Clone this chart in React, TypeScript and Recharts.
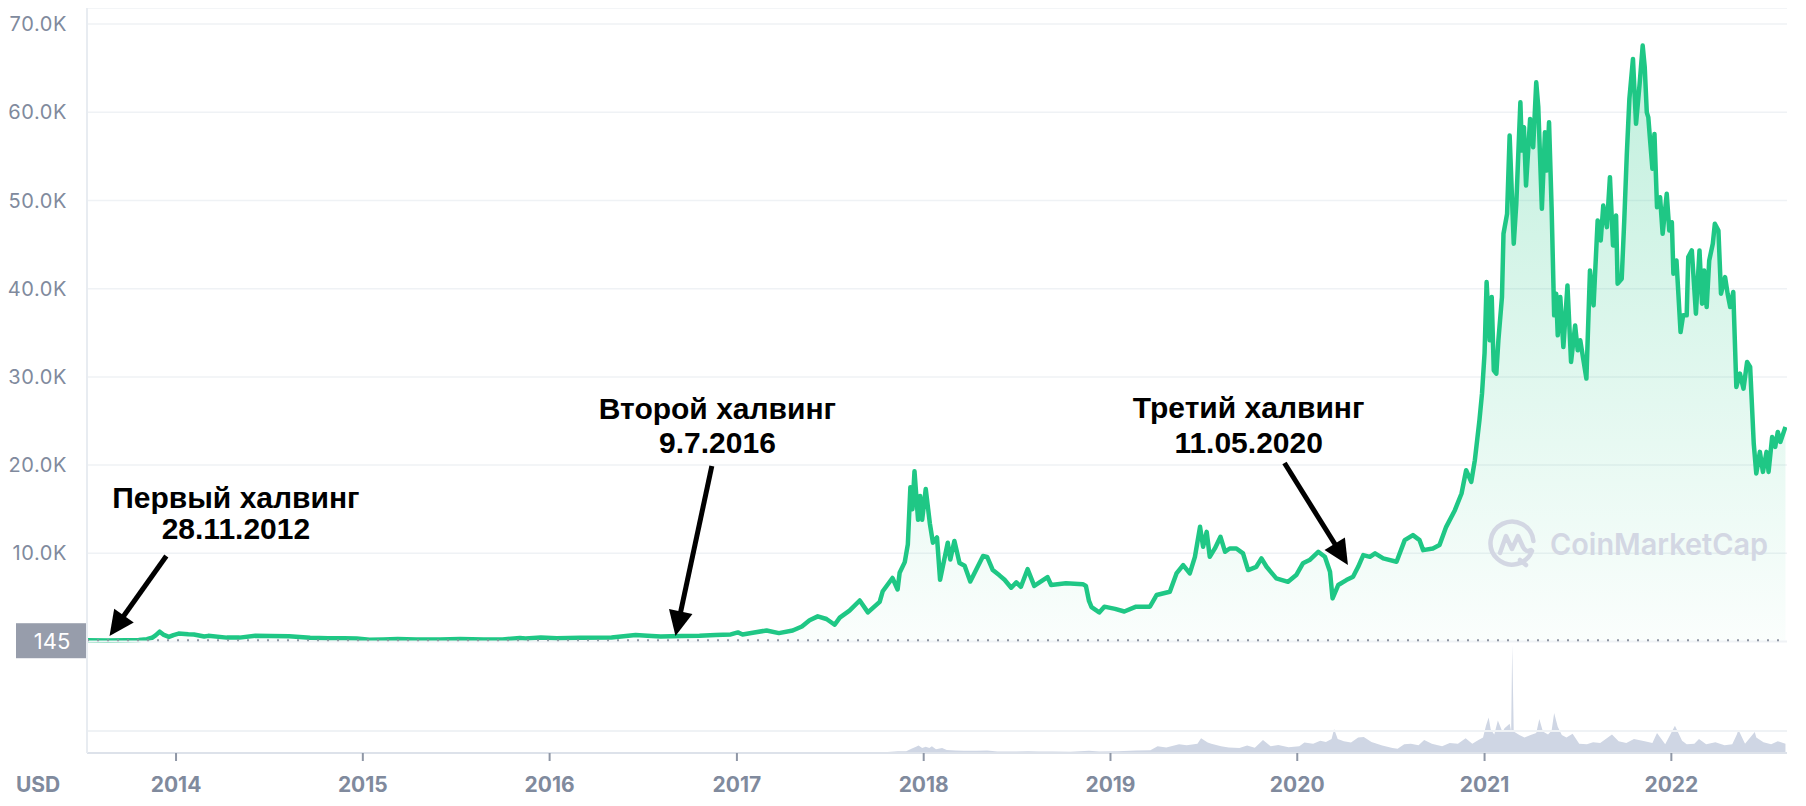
import React from 'react';
import { ComposedChart, Area, XAxis, YAxis, CartesianGrid, ReferenceLine, ReferenceDot } from 'recharts';

// ---------- data ----------
const priceDates = [
  '2013-07-11','2013-08-20','2013-09-25','2013-10-20','2013-11-05','2013-11-15','2013-11-22','2013-11-30','2013-12-07','2013-12-18','2013-12-27',
  '2014-01-06','2014-01-25','2014-02-05','2014-02-25','2014-03-05','2014-04-10','2014-05-05','2014-06-05','2014-07-05','2014-08-10','2014-09-20','2014-10-25','2014-11-25','2014-12-20',
  '2015-01-14','2015-02-10','2015-03-10','2015-04-15','2015-06-01','2015-07-10','2015-08-25','2015-10-01','2015-11-04','2015-11-15','2015-12-15',
  '2016-01-15','2016-03-01','2016-05-01','2016-06-17','2016-07-10','2016-08-05','2016-09-15','2016-10-20','2016-11-20','2016-12-20',
  '2017-01-03','2017-01-12','2017-02-01','2017-02-28','2017-03-24','2017-04-20','2017-05-08','2017-05-23','2017-06-08','2017-06-25','2017-07-11','2017-07-21',
  '2017-08-09','2017-08-29','2017-09-14','2017-10-07','2017-10-13','2017-11-01','2017-11-11','2017-11-15','2017-11-25','2017-12-01','2017-12-06','2017-12-10',
  '2017-12-14','2017-12-21','2017-12-25','2017-12-29',
  '2018-01-05','2018-01-13','2018-01-19','2018-01-27','2018-02-02','2018-02-17','2018-02-22','2018-03-02','2018-03-12','2018-03-22','2018-04-02','2018-04-14',
  '2018-04-27','2018-05-05','2018-05-16','2018-05-29','2018-06-08','2018-06-21','2018-07-01','2018-07-10','2018-07-23','2018-08-05','2018-08-31','2018-09-07',
  '2018-10-06','2018-11-08','2018-11-14','2018-11-20','2018-11-25','2018-12-10','2018-12-20',
  '2019-01-10','2019-01-28','2019-02-20','2019-03-19','2019-04-01','2019-04-27','2019-05-10','2019-05-23','2019-06-05','2019-06-15','2019-06-25','2019-07-01',
  '2019-07-08','2019-07-14','2019-07-24','2019-08-04','2019-08-13','2019-08-22','2019-09-04','2019-09-17','2019-09-27','2019-10-13','2019-10-23','2019-11-02',
  '2019-11-21','2019-12-14','2019-12-30',
  '2020-01-12','2020-01-25','2020-02-11','2020-02-24','2020-03-05','2020-03-10','2020-03-21','2020-04-06','2020-04-19','2020-04-29','2020-05-09','2020-05-22',
  '2020-06-01','2020-06-17','2020-07-13','2020-07-29','2020-08-14','2020-08-27','2020-09-03','2020-09-22','2020-10-05','2020-10-18','2020-11-04','2020-11-17',
  '2020-11-26','2020-12-06','2020-12-13','2020-12-22','2020-12-27',
  '2021-01-01','2021-01-05','2021-01-11','2021-01-15','2021-01-19','2021-01-24','2021-01-28','2021-02-04','2021-02-07','2021-02-14','2021-02-19','2021-02-27',
  '2021-03-04','2021-03-12','2021-03-15','2021-03-19','2021-03-23','2021-03-31','2021-04-06','2021-04-12','2021-04-16','2021-04-23','2021-04-29','2021-05-03',
  '2021-05-07','2021-05-12','2021-05-17','2021-05-21','2021-05-24','2021-05-29','2021-06-04','2021-06-12','2021-06-19','2021-06-27','2021-07-02','2021-07-07',
  '2021-07-19','2021-07-26','2021-08-02','2021-08-10','2021-08-16','2021-08-21','2021-08-28','2021-09-03','2021-09-09','2021-09-15','2021-09-18','2021-09-26',
  '2021-10-01','2021-10-06','2021-10-11','2021-10-18','2021-10-24','2021-10-31','2021-11-06','2021-11-10','2021-11-14','2021-11-17','2021-11-20','2021-11-25',
  '2021-11-29','2021-12-04','2021-12-10','2021-12-15','2021-12-23','2021-12-28',
  '2022-01-02','2022-01-05','2022-01-11','2022-01-19','2022-01-24','2022-01-31','2022-02-03','2022-02-10','2022-02-18','2022-02-25','2022-03-02','2022-03-06',
  '2022-03-11','2022-03-16','2022-03-23','2022-03-27','2022-04-03','2022-04-08','2022-04-16','2022-04-21','2022-04-26','2022-05-02','2022-05-08','2022-05-15',
  '2022-05-22','2022-05-29','2022-06-04','2022-06-11','2022-06-16','2022-06-23','2022-06-29','2022-07-06','2022-07-10','2022-07-17','2022-07-23','2022-07-28',
  '2022-08-02','2022-08-12',
];
const priceValues = [
  145,125,135,170,260,420,700,1110,780,520,730,
  900,820,790,560,640,440,440,650,630,590,420,360,370,330,
  200,230,280,230,230,290,220,240,400,330,450,
  380,420,450,740,650,570,610,640,740,800,
  1030,800,990,1250,950,1250,1700,2400,2850,2550,1900,2700,
  3500,4650,3300,4500,5700,7200,5900,7800,9000,11000,17500,15000,
  19300,13800,16500,13800,
  17300,13400,11200,11800,7000,11200,9300,11400,8900,8600,6800,8200,
  9700,9600,8100,7500,7000,6100,6700,6200,8200,6300,7300,6400,
  6600,6500,6300,4600,3900,3300,3950,
  3700,3400,3950,3940,5270,5640,7720,8660,7720,9600,13000,10740,
  12430,9600,10550,11870,10170,10550,10550,9990,8100,8470,9420,8470,
  7160,6770,7530,
  8860,9230,10170,9600,7900,4890,6400,6960,7340,8470,9800,9600,
  9990,9420,9040,11490,12060,11490,10360,10550,10930,13000,14890,16780,
  19420,18100,20550,25080,28100,
  32700,40750,34150,39050,30750,30370,34150,39050,46230,48490,57360,45100,
  49620,61130,55660,58300,51700,59250,56040,63400,60570,49060,57740,53400,
  58870,49240,36980,39430,34710,39050,33390,40370,31690,35840,33010,34150,
  29810,42070,38110,47740,45470,49430,46980,52640,44900,48300,40570,41130,
  47740,55290,61520,66050,58690,63220,67560,65100,60000,59430,57170,53590,
  57550,49240,50370,46230,50760,46600,
  47540,41700,43200,35080,36980,36980,43580,44340,37170,44340,38300,42070,
  37920,43200,45100,47360,46600,39430,41310,39430,37920,39620,28860,30370,
  28670,31690,31120,22450,19050,21500,19230,21500,19230,23190,22060,23760,
  22630,24330,
];

// trading volume, billions USD
const volumeDates = [
  '2013-07-11','2013-11-30','2014-02-10','2014-12-31','2015-12-31','2016-12-31','2017-05-25','2017-08-15','2017-10-15','2017-11-12','2017-11-28',
  '2017-12-08','2017-12-17','2017-12-22','2017-12-29','2018-01-05','2018-01-12','2018-01-17','2018-01-25','2018-02-06','2018-02-15','2018-03-05',
  '2018-03-20','2018-04-15','2018-05-05','2018-05-25','2018-06-15','2018-07-24','2018-08-15','2018-09-10','2018-10-15','2018-11-20','2018-12-10',
  '2019-01-15','2019-02-20','2019-03-20','2019-04-03','2019-04-20','2019-05-15','2019-05-30','2019-06-20','2019-06-27','2019-07-10','2019-07-17',
  '2019-08-05','2019-08-20','2019-09-10','2019-09-25','2019-10-10','2019-10-26','2019-11-10','2019-11-25','2019-12-15',
  '2020-01-05','2020-01-15','2020-02-01','2020-02-15','2020-02-26','2020-03-08','2020-03-13','2020-03-20','2020-04-01','2020-04-15','2020-04-29',
  '2020-05-10','2020-05-25','2020-06-15','2020-07-05','2020-07-15','2020-07-28','2020-08-10','2020-08-25','2020-09-05','2020-09-20','2020-10-10',
  '2020-10-25','2020-11-10','2020-11-25','2020-12-08','2020-12-20','2020-12-29',
  '2021-01-04','2021-01-09','2021-01-13','2021-01-20','2021-01-27','2021-02-05','2021-02-09','2021-02-19','2021-02-22','2021-02-24','2021-02-27',
  '2021-03-10','2021-03-20','2021-04-01','2021-04-12','2021-04-18','2021-04-25','2021-05-05','2021-05-12','2021-05-17','2021-05-24','2021-06-01',
  '2021-06-10','2021-06-22','2021-07-05','2021-07-20','2021-08-01','2021-08-15','2021-09-07','2021-09-20','2021-10-05','2021-10-20','2021-11-10',
  '2021-11-25','2021-12-04','2021-12-20',
  '2022-01-08','2022-01-22','2022-01-31','2022-02-15','2022-02-24','2022-03-10','2022-03-28','2022-04-15','2022-04-30','2022-05-09','2022-05-12',
  '2022-05-25','2022-06-13','2022-06-16','2022-06-30','2022-07-15','2022-07-28','2022-08-12',
];
const volumeValues = [
  0.05,0.3,0.2,0.05,0.1,0.3,1.5,2,2.5,6,6,
  14,20,24,16,20,16,22,12,16,10,8,
  7,7,8,5,4.5,6,4.5,4.5,4,7,5,
  5.5,8,9,22,18,28,25,30,48,34,30,
  22,18,16,24,17,42,22,26,19,
  22,34,30,40,36,45,78,45,38,34,50,
  52,36,24,16,14,28,30,25,42,30,22,
  32,30,48,30,42,50,
  90,115,76,60,105,68,80,95,70,350,70,
  58,50,58,65,110,70,60,72,130,85,58,
  50,62,30,28,35,32,60,38,32,45,38,
  32,65,28,
  88,40,28,30,45,28,35,25,28,60,75,
  30,68,50,35,28,38,30,
];

const yearTicks = ['2014-01-01','2015-01-01','2016-01-01','2017-01-01','2018-01-01','2019-01-01','2020-01-01','2021-01-01','2022-01-01'];
const priceTicks = [10000, 20000, 30000, 40000, 50000, 60000, 70000];
const startPrice = 145;
const currencyLabel = 'USD';
const watermarkText = 'CoinMarketCap';

const annotationTitles = ['Первый халвинг', 'Второй халвинг', 'Третий халвинг'];
const annotationDates = ['28.11.2012', '9.7.2016', '11.05.2020'];
const annotationTextDates = ['2014-04-28', '2016-11-24', '2019-09-28'];
const annotationTitlePrices = [16390, 26480, 26590];
const annotationSubPrices = [12870, 22620, 22620];
const arrowTailDates = ['2013-12-13', '2016-11-13', '2019-12-07'];
const arrowTailPrices = [9700, 19900, 20240];
const arrowTipDates = ['2013-08-24', '2016-09-03', '2020-04-09'];
const arrowTipPrices = [624, 624, 8675];

// ---------- build table ----------
const ts = (d: string) => Date.parse(d + 'T00:00:00Z');
const rowMap = new Map<number, any>();
priceDates.forEach((d, i) => {
  const t = ts(d);
  rowMap.set(t, { ...(rowMap.get(t) || { t }), price: priceValues[i] });
});
volumeDates.forEach((d, i) => {
  const t = ts(d);
  rowMap.set(t, { ...(rowMap.get(t) || { t }), volume: volumeValues[i] });
});
const chartData = Array.from(rowMap.values()).sort((a, b) => a.t - b.t);

const X_DOMAIN: [number, number] = [ts('2013-07-11'), ts('2022-08-15')];
const PRICE_DOMAIN: [number, number] = [-12642, 71825];
const VOLUME_DOMAIN: [number, number] = [0, 2414];

const AXIS_COLOR = '#808a9d';
const GRID_COLOR = '#eff2f5';
const GREEN = '#1fc785';
const FONT = 'Inter, "Noto Sans", sans-serif';
const ANN_FONT = '"Liberation Sans", Arial, sans-serif';

const fmtPrice = (v: number) => `${(v / 1000).toFixed(1)}K`;
const fmtYear = (v: number) => String(new Date(v).getUTCFullYear());

const ArrowShape = (props: any) => {
  const { x1, y1, x2, y2 } = props;
  const dx = x2 - x1;
  const dy = y2 - y1;
  const len = Math.hypot(dx, dy) || 1;
  const ux = dx / len;
  const uy = dy / len;
  const L = 25;
  const W = 12;
  const bx = x2 - ux * L;
  const by = y2 - uy * L;
  return (
    <g>
      <line x1={x1} y1={y1} x2={bx + ux * 3} y2={by + uy * 3} stroke="#000" strokeWidth={5} />
      <polygon points={`${x2},${y2} ${bx - uy * W},${by + ux * W} ${bx + uy * W},${by - ux * W}`} fill="#000" />
    </g>
  );
};

const makeTextShape = (text: string) => (props: any) => (
  <text
    x={props.cx}
    y={props.cy}
    dy={11}
    textAnchor="middle"
    fontFamily={ANN_FONT}
    fontWeight={700}
    fontSize={30}
    fill="#000"
  >
    {text}
  </text>
);

const PriceTag = (props: any) => {
  const vb = props.viewBox || {};
  const x = vb.x ?? 79;
  const y = vb.y ?? 633;
  return (
    <g>
      <rect x={x - 71} y={y - 17} width={72} height={35} fill="#979dab" />
      <text x={x - 35} y={y + 9} textAnchor="middle" fill="#ffffff" fontFamily={FONT} fontSize={22}>
        {startPrice}
      </text>
    </g>
  );
};

export default function App() {
  return (
    <div style={{ position: 'relative', width: 1790, height: 790 }}>
      <ComposedChart
        width={1790}
        height={790}
        data={chartData}
        margin={{ top: 0, right: 11, bottom: 0, left: 0 }}
      >
        <defs>
          <linearGradient id="priceFill" x1="0" y1="0" x2="0" y2="1">
            <stop offset="0%" stopColor={GREEN} stopOpacity={0.28} />
            <stop offset="100%" stopColor={GREEN} stopOpacity={0.02} />
          </linearGradient>
        </defs>
        <CartesianGrid yAxisId="price" vertical={false} stroke={GRID_COLOR} strokeWidth={1.5} />
        <XAxis
          dataKey="t"
          type="number"
          scale="linear"
          domain={X_DOMAIN}
          allowDataOverflow
          ticks={yearTicks.map(ts)}
          tickFormatter={fmtYear}
          height={45}
          tickSize={8}
          tickMargin={16}
          axisLine={{ stroke: '#dde2ea', strokeWidth: 2 }}
          tickLine={{ stroke: '#8f97a6', strokeWidth: 2 }}
          tick={{ fill: AXIS_COLOR, fontSize: 21, fontWeight: 700, fontFamily: FONT }}
        />
        <YAxis
          yAxisId="price"
          type="number"
          domain={PRICE_DOMAIN}
          allowDataOverflow
          ticks={priceTicks}
          tickFormatter={fmtPrice}
          width={79}
          tickSize={0}
          tickMargin={20}
          axisLine={{ stroke: '#e8ecf1', strokeWidth: 2 }}
          tickLine={false}
          tick={{ fill: AXIS_COLOR, fontSize: 20, fontFamily: FONT, letterSpacing: 0.6 }}
        />
        <YAxis yAxisId="vol" type="number" domain={VOLUME_DOMAIN} allowDataOverflow hide />
        <ReferenceLine yAxisId="price" y={0} stroke={GRID_COLOR} strokeWidth={2} />
        <ReferenceLine yAxisId="vol" y={71} stroke={GRID_COLOR} strokeWidth={2} />
        <Area
          yAxisId="vol"
          dataKey="volume"
          type="linear"
          stroke="none"
          fill="#cfd6e4"
          fillOpacity={1}
          connectNulls
          isAnimationActive={false}
          dot={false}
          activeDot={false}
        />
        <ReferenceLine
          yAxisId="price"
          y={startPrice}
          stroke="#8e95a3"
          strokeWidth={2}
          strokeDasharray="2 8"
          label={<PriceTag />}
        />
        <Area
          yAxisId="price"
          dataKey="price"
          type="linear"
          stroke={GREEN}
          strokeWidth={4.5}
          strokeLinejoin="round"
          fill="url(#priceFill)"
          fillOpacity={1}
          baseValue={0}
          connectNulls
          isAnimationActive={false}
          dot={false}
          activeDot={false}
        />
        {annotationTitles.map((title, i) => (
          <ReferenceLine
            key={`arrow-${i}`}
            yAxisId="price"
            ifOverflow="visible"
            segment={[
              { x: ts(arrowTailDates[i]), y: arrowTailPrices[i] },
              { x: ts(arrowTipDates[i]), y: arrowTipPrices[i] },
            ]}
            shape={ArrowShape}
          />
        ))}
        {annotationTitles.map((title, i) => (
          <ReferenceDot
            key={`title-${i}`}
            yAxisId="price"
            ifOverflow="visible"
            x={ts(annotationTextDates[i])}
            y={annotationTitlePrices[i]}
            r={0}
            shape={makeTextShape(title)}
          />
        ))}
        {annotationDates.map((d, i) => (
          <ReferenceDot
            key={`date-${i}`}
            yAxisId="price"
            ifOverflow="visible"
            x={ts(annotationTextDates[i])}
            y={annotationSubPrices[i]}
            r={0}
            shape={makeTextShape(d)}
          />
        ))}
      </ComposedChart>
      <svg
        width={1790}
        height={790}
        style={{ position: 'absolute', left: 0, top: 0, pointerEvents: 'none' }}
      >
        <text x={8} y={784} fill={AXIS_COLOR} fontFamily={FONT} fontWeight={700} fontSize={21}>
          {currencyLabel}
        </text>
        <g transform="translate(1504,535)" fill="none" stroke="#d3d7e3" strokeWidth={4.5} strokeLinecap="round" strokeLinejoin="round">
          <path d="M 20 8 A 21.5 21.5 0 1 1 21.4 -2" />
          <path d="M -12 10 L -6 -7 L 0 6 L 6 -7 L 11 4 Q 14 10 19 7" />
          <path d="M 8 17 L 14 22" />
        </g>
        <text
          x={1542}
          y={547}
          fill="#d3d7e3"
          fontFamily={FONT}
          fontWeight={600}
          fontSize={30}
          textLength={218}
          lengthAdjust="spacingAndGlyphs"
        >
          {watermarkText}
        </text>
      </svg>
    </div>
  );
}
